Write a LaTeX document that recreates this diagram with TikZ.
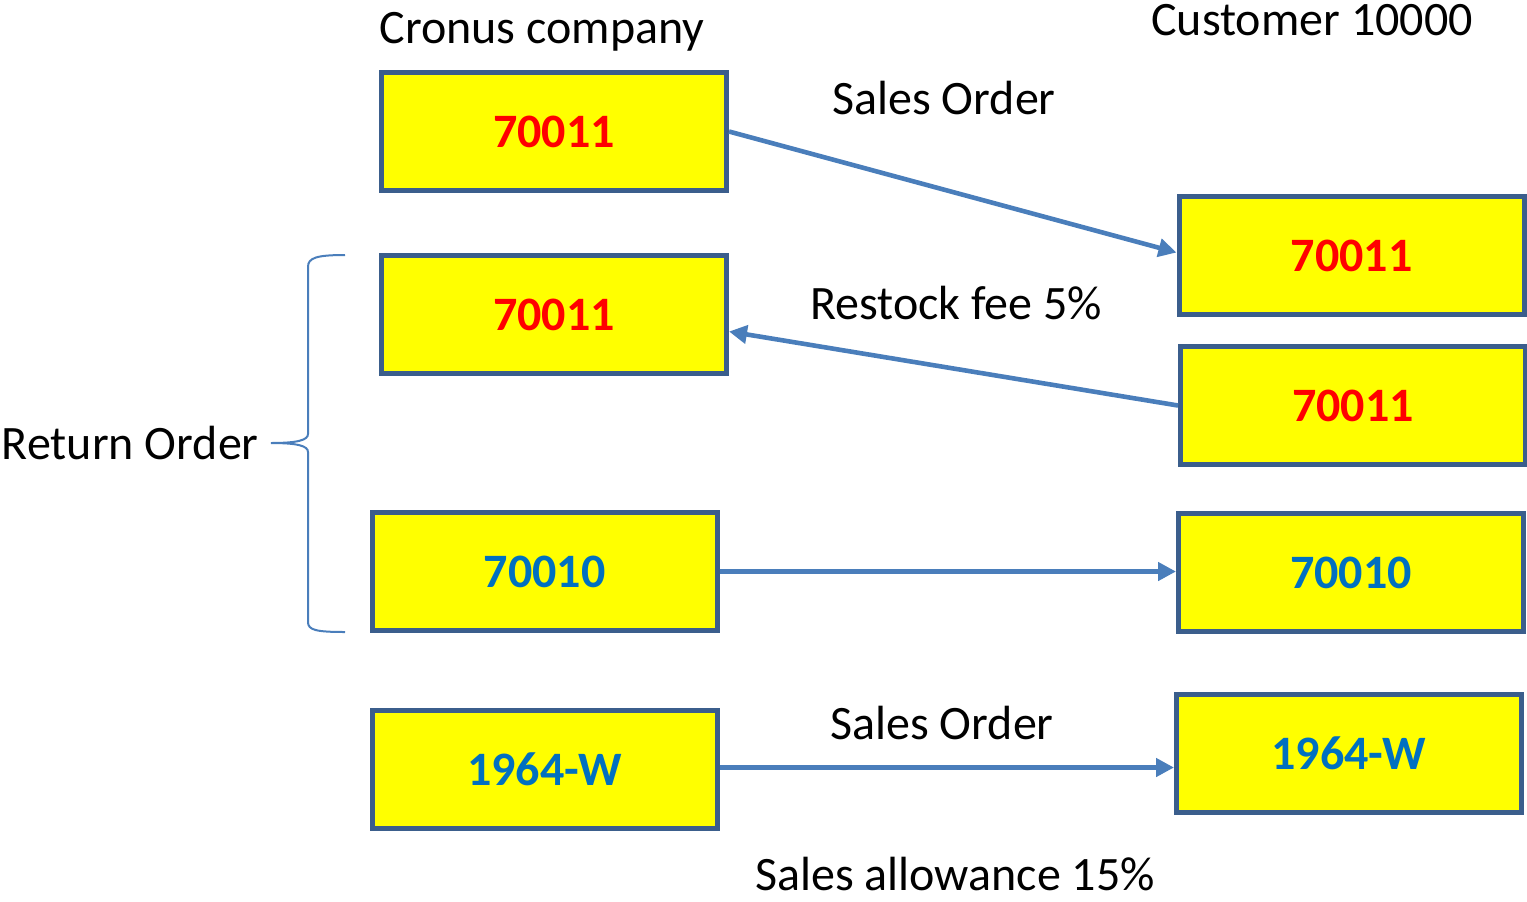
\documentclass[tikz,border=0pt]{standalone}
\usepackage{fontspec}
\setmainfont{Carlito}
\usetikzlibrary{arrows.meta, positioning}
\definecolor{boxline}{HTML}{3B5E8C}
\definecolor{boxfill}{HTML}{FFFF00}
\definecolor{arrowblue}{HTML}{4A7EBB}
\definecolor{numred}{HTML}{FF0000}
\definecolor{numblue}{HTML}{0070C0}
\tikzset{
    order/.style={rectangle, draw=boxline, fill=boxfill, line width=2.5pt, minimum width=172.5pt, minimum height=59pt, text centered, font=\fontsize{24}{28}\selectfont\bfseries},
    note/.style={font=\fontsize{24}{28}\selectfont, inner sep=0pt},
    arrow/.style={line width=2.3pt, draw=arrowblue, -{Triangle[length=9pt, width=9pt]}},
    brace/.style={draw=arrowblue, line width=1pt}
}

\begin{document}
\begin{tikzpicture}[x=0.5pt, y=-0.5pt]
    \useasboundingbox (0,0) rectangle (1527,901);
    % Nodes
    \node (cronusSO) [order, text=numred] at (554,131.5) {70011};
    \node (cronusRO) [order, text=numred] at (554,314.5) {70011};
    \node (cronusRB) [order, text=numblue] at (544.5,571.5) {70010};
    \node (cronusSA) [order, text=numblue] at (544.5,769.5) {1964-W};
    \node (custSO) [order, text=numred] at (1351.5,255.5) {70011};
    \node (custRO) [order, text=numred] at (1353,405.5) {70011};
    \node (custRB) [order, text=numblue] at (1351,572.5) {70010};
    \node (custSA) [order, text=numblue] at (1349,753.5) {1964-W};
    % Texts
    \node (cronus) [note] at (542,32) {Cronus company};
    \node (customer) [note] at (1312,20) {Customer 10000};
    \node (salesTop) [note] at (944,98) {Sales Order};
    \node (restock) [note] at (956,303) {Restock fee 5\%};
    \node (salesBot) [note] at (942,723) {Sales Order};
    \node (allowance) [note] at (955,874) {Sales allowance 15\%};
    % Brace
    \coordinate (tip) at (271,443);
    \draw [brace] (345,255) .. controls (316,255) and (308,258) .. (308,267) -- (308,434)
        .. controls (308,440) and (298,443) .. (tip)
        .. controls (298,443) and (308,446) .. (308,452) -- (308,622)
        .. controls (308,630) and (316,632) .. (345,632);
    \node (returnOrder) [note, anchor=east, xshift=-6pt] at (tip) {Return Order};
    % Arrows
    \draw [arrow] (cronusSO.east) -- ([yshift=1.5pt]custSO.west);
    \draw [arrow] (custRO.west) -- ([yshift=-8.5pt]cronusRO.east);
    \draw [arrow] (cronusRB.east) -- (cronusRB.east -| custRB.west);
    \draw [arrow] ([yshift=1pt]cronusSA.east) -- ([yshift=1pt]cronusSA.east -| custSA.west);
\end{tikzpicture}
\end{document}
